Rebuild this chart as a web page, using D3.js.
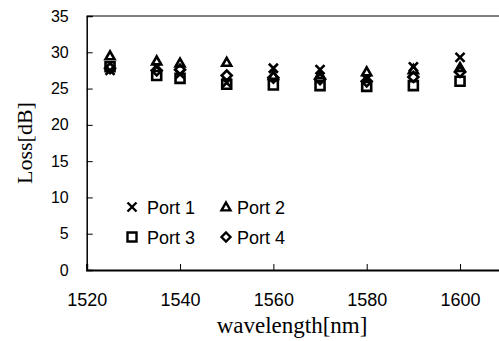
<!DOCTYPE html>
<html>
<head>
<meta charset="utf-8">
<script src="https://cdn.jsdelivr.net/npm/d3@7"></script>
<style>
  body { margin: 0; background: #fff; }
  svg { display: block; }
</style>
</head>
<body>
<svg></svg>
<script>
const width = 499;
const height = 341;

// wavelength points [nm]
const wavelengths = [1525, 1535, 1540, 1550, 1560, 1570, 1580, 1590, 1600];
// loss per port [dB]
const port1 = [27.5, 28.0, 27.0, 25.8, 27.8, 27.6, 26.3, 28.0, 29.3];
const port2 = [29.5, 28.8, 28.5, 28.6, 26.8, 26.9, 27.3, 27.6, 27.9];
const port3 = [28.0, 26.8, 26.4, 25.6, 25.5, 25.4, 25.3, 25.4, 26.0];
const port4 = [27.8, 27.5, 27.6, 26.8, 26.5, 26.3, 26.0, 26.6, 27.3];

const xTicks = [1520, 1540, 1560, 1580, 1600];
const yTicks = [0, 5, 10, 15, 20, 25, 30, 35];

const series = [
    { name: "Port 1", values: port1, shape: "cross" },
    { name: "Port 2", values: port2, shape: "triangle" },
    { name: "Port 3", values: port3, shape: "square" },
    { name: "Port 4", values: port4, shape: "diamond" }
];

const svg = d3.select("svg")
    .attr("width", width)
    .attr("height", height);

const x = d3.scaleLinear().domain([1520, 1610]).range([86.7, 506.7]);
const y = d3.scaleLinear().domain([0, 35]).range([270, 16]);

// frame: top line
svg.append("line")
    .attr("x1", x(1520)).attr("x2", width)
    .attr("y1", y(35)).attr("y2", y(35))
    .style("stroke", "#000").style("stroke-width", 1);

// y axis
const yAxis = svg.append("g")
    .attr("transform", `translate(${x(1520)},0)`)
    .call(d3.axisLeft(y).tickValues(yTicks).tickSize(-6).tickPadding(18));
yAxis.select(".domain").style("stroke-width", 1.5);
yAxis.selectAll("text")
    .style("font-family", "Arial, 'Liberation Sans', sans-serif")
    .style("font-size", "16px")
    .style("fill", "#000");

// x axis
const xAxis = svg.append("g")
    .attr("transform", `translate(0,${y(0)})`)
    .call(d3.axisBottom(x).tickValues(xTicks).tickFormat(d3.format("d")).tickSize(-6).tickPadding(23));
xAxis.select(".domain").style("stroke-width", 2);
xAxis.selectAll("text")
    .style("font-family", "Arial, 'Liberation Sans', sans-serif")
    .style("font-size", "18px")
    .style("fill", "#000");

// marker paths
function markerPath(shape, s) {
    const h = s / 2;
    switch (shape) {
        case "cross":
            return `M${-h},${-h}L${h},${h}M${-h},${h}L${h},${-h}`;
        case "triangle":
            return `M0,${-h}L${h},${h * 0.75}L${-h},${h * 0.75}Z`;
        case "square":
            return `M${-h},${-h}H${h}V${h}H${-h}Z`;
        case "diamond":
            return `M0,${-h}L${h},0L0,${h}L${-h},0Z`;
    }
}

series.forEach(sr => {
    svg.append("g").selectAll("path")
        .data(wavelengths.map((w, i) => ({ w: w, v: sr.values[i] })))
        .enter()
        .append("path")
        .attr("transform", d => `translate(${x(d.w)},${y(d.v)})`)
        .attr("d", markerPath(sr.shape, sr.shape === "diamond" ? 10 : 9))
        .style("fill", "none")
        .style("stroke", "#000")
        .style("stroke-width", 2.6);
});

// legend
const legendPos = [
    { x: 132, y: 207, tx: 147 }, { x: 226, y: 207, tx: 237 },
    { x: 132, y: 237, tx: 147 }, { x: 226, y: 237, tx: 237 }
];
series.forEach((sr, i) => {
    const p = legendPos[i];
    svg.append("path")
        .attr("transform", `translate(${p.x},${p.y})`)
        .attr("d", markerPath(sr.shape, 9))
        .style("fill", "none")
        .style("stroke", "#000")
        .style("stroke-width", 2.4);
    svg.append("text")
        .attr("x", p.tx)
        .attr("y", p.y + 7)
        .style("font-family", "Arial, 'Liberation Sans', sans-serif")
        .style("font-size", "18px")
        .text(sr.name);
});

// axis titles
svg.append("text")
    .attr("x", 292)
    .attr("y", 333)
    .attr("text-anchor", "middle")
    .style("font-family", "'Times New Roman', 'Liberation Serif', serif")
    .style("font-size", "23px")
    .text("wavelength[nm]");

svg.append("text")
    .attr("transform", "translate(32,143) rotate(-90)")
    .attr("text-anchor", "middle")
    .style("font-family", "'Times New Roman', 'Liberation Serif', serif")
    .style("font-size", "22px")
    .text("Loss[dB]");
</script>
</body>
</html>
